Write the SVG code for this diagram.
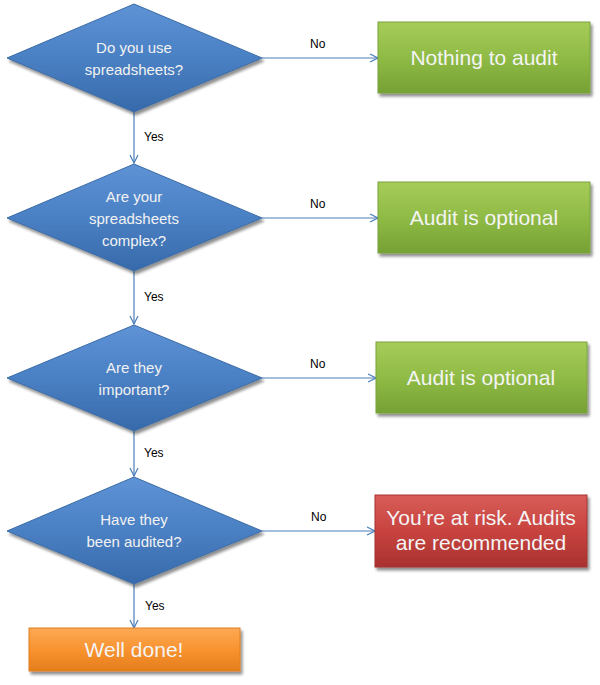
<svg xmlns="http://www.w3.org/2000/svg" width="600" height="685" viewBox="0 0 600 685">
<defs>
<linearGradient id="gBlue" x1="0" y1="0" x2="0" y2="1">
<stop offset="0" stop-color="#5e93d6"/><stop offset="0.5" stop-color="#4a80c4"/><stop offset="1" stop-color="#376aaa"/>
</linearGradient>
<linearGradient id="gGreen" x1="0" y1="0" x2="0" y2="1">
<stop offset="0" stop-color="#a6cc5a"/><stop offset="0.5" stop-color="#8fbb45"/><stop offset="1" stop-color="#76a134"/>
</linearGradient>
<linearGradient id="gRed" x1="0" y1="0" x2="0" y2="1">
<stop offset="0" stop-color="#d85d58"/><stop offset="0.5" stop-color="#c8433f"/><stop offset="1" stop-color="#a93230"/>
</linearGradient>
<linearGradient id="gOrange" x1="0" y1="0" x2="0" y2="1">
<stop offset="0" stop-color="#fda955"/><stop offset="0.5" stop-color="#f8932f"/><stop offset="1" stop-color="#e57d1c"/>
</linearGradient>
<filter id="shadow" x="-10%" y="-10%" width="125%" height="135%">
<feGaussianBlur in="SourceAlpha" stdDeviation="1.6"/>
<feOffset dx="1.5" dy="2.5" result="b"/>
<feComponentTransfer><feFuncA type="linear" slope="0.45"/></feComponentTransfer>
<feMerge><feMergeNode/><feMergeNode in="SourceGraphic"/></feMerge>
</filter>
<marker id="arrow" viewBox="0 0 10 10" refX="9" refY="5" markerWidth="10" markerHeight="10" markerUnits="userSpaceOnUse" orient="auto">
<path d="M1,1 L9,5 L1,9" fill="none" stroke="#4a7ebb" stroke-width="1.2"/>
</marker>
<style>
.dia{fill:url(#gBlue);stroke:#3b6ba5;stroke-width:1;filter:url(#shadow)}
.green{fill:url(#gGreen);stroke:#7aa23c;stroke-width:1;filter:url(#shadow)}
.red{fill:url(#gRed);stroke:#a63532;stroke-width:1;filter:url(#shadow)}
.orange{fill:url(#gOrange);stroke:#e0801f;stroke-width:1;filter:url(#shadow)}
.qt{font-family:"Liberation Sans",Arial,sans-serif;font-size:15px;fill:#f2f2f2;text-anchor:middle}
.bt{font-family:"Liberation Sans",Arial,sans-serif;font-size:21px;fill:#f4f4f4;text-anchor:middle}
.lbl{font-family:"Liberation Sans",Arial,sans-serif;font-size:12px;fill:#000}
.conn{stroke:#4a7ebb;stroke-width:1.2;fill:none;marker-end:url(#arrow)}
</style>
</defs>
<rect width="600" height="685" fill="#ffffff"/>

<g id="connectors">
<line class="conn" x1="134" y1="112" x2="134" y2="163"/>
<line class="conn" x1="134" y1="271" x2="134" y2="324"/>
<line class="conn" x1="134" y1="431" x2="134" y2="476"/>
<line class="conn" x1="134" y1="584" x2="134" y2="628"/>
<line class="conn" x1="262" y1="58" x2="378" y2="58"/>
<line class="conn" x1="262" y1="218" x2="378" y2="218"/>
<line class="conn" x1="262" y1="378" x2="376" y2="378"/>
<line class="conn" x1="262" y1="531" x2="375" y2="531"/>
<text class="lbl" x="144" y="141">Yes</text>
<text class="lbl" x="144" y="301">Yes</text>
<text class="lbl" x="144" y="457">Yes</text>
<text class="lbl" x="145" y="610">Yes</text>
<text class="lbl" x="310" y="48">No</text>
<text class="lbl" x="310" y="208">No</text>
<text class="lbl" x="310" y="368">No</text>
<text class="lbl" x="311" y="521">No</text>
</g>

<g id="q1">
<polygon class="dia" points="134,4 262,58 134,112 7,58"/>
<text class="qt" x="134" y="53">Do you use</text>
<text class="qt" x="134" y="75">spreadsheets?</text>
</g>
<g id="q2">
<polygon class="dia" points="134,164 262,218 134,271 7,218"/>
<text class="qt" x="134" y="202">Are your</text>
<text class="qt" x="134" y="224">spreadsheets</text>
<text class="qt" x="134" y="246">complex?</text>
</g>
<g id="q3">
<polygon class="dia" points="134,325 262,378 134,431 7,378"/>
<text class="qt" x="134" y="373">Are they</text>
<text class="qt" x="134" y="395">important?</text>
</g>
<g id="q4">
<polygon class="dia" points="134,477 262,531 134,584 7,531"/>
<text class="qt" x="134" y="525">Have they</text>
<text class="qt" x="134" y="547">been audited?</text>
</g>

<g id="r1">
<rect class="green" x="378" y="22" width="212" height="71"/>
<text class="bt" x="484" y="65">Nothing to audit</text>
</g>
<g id="r2">
<rect class="green" x="378" y="182" width="212" height="71"/>
<text class="bt" x="484" y="225">Audit is optional</text>
</g>
<g id="r3">
<rect class="green" x="376" y="342" width="211" height="71"/>
<text class="bt" x="481" y="385">Audit is optional</text>
</g>
<g id="r4">
<rect class="red" x="375" y="495" width="212" height="72"/>
<text class="bt" x="481" y="525">You’re at risk. Audits</text>
<text class="bt" x="481" y="550">are recommended</text>
</g>
<g id="r5">
<rect class="orange" x="29" y="628" width="211" height="43"/>
<text class="bt" x="134" y="657">Well done!</text>
</g>
</svg>
